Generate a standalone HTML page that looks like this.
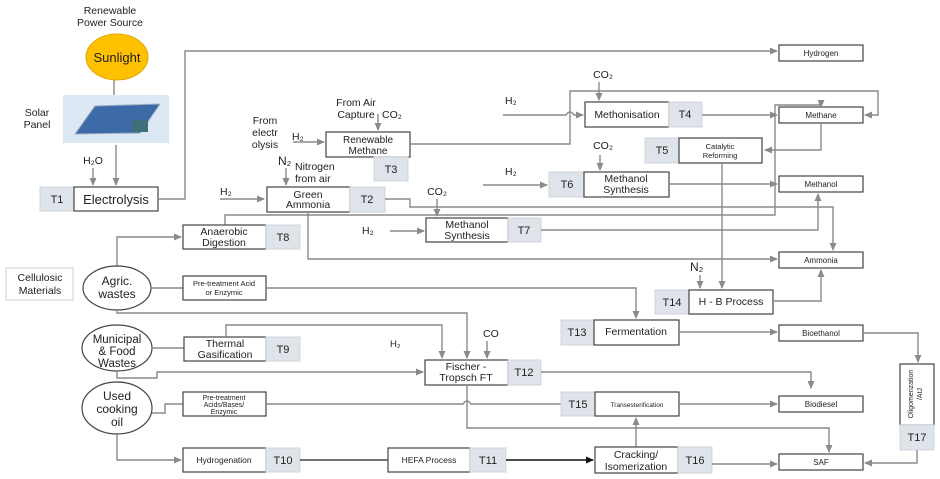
<!DOCTYPE html>
<html><head><meta charset="utf-8"><style>
html,body{margin:0;padding:0;background:#fff;}
svg{display:block;font-family:"Liberation Sans",sans-serif;}
.b{fill:#fff;stroke:#444;stroke-width:1.2}
.t{fill:#dfe4ea;stroke:#cfd5dc;stroke-width:1}
.l{fill:none;stroke:#8a8a8a;stroke-width:1.4}
text{fill:#222}
.s{font-size:8px}
.m{font-size:10.5px}
.T{font-size:11px}
</style></head><body>
<svg width="940" height="479" viewBox="0 0 940 479">
<defs><marker id="a" markerWidth="8" markerHeight="8" refX="7" refY="4" orient="auto" markerUnits="userSpaceOnUse"><path d="M0,0.5 L8,4 L0,7.5z" fill="#8a8a8a"/></marker>
<marker id="k" markerWidth="8" markerHeight="8" refX="7" refY="4" orient="auto" markerUnits="userSpaceOnUse"><path d="M0,0.5 L8,4 L0,7.5z" fill="#111"/></marker></defs>

<text x="110" y="14" text-anchor="middle" class="m" fill="#444">Renewable</text>
<text x="110" y="26" text-anchor="middle" class="m">Power Source</text>
<line x1="114" y1="80" x2="114" y2="95" class="l"/>
<ellipse cx="117" cy="57" rx="31" ry="23" fill="#FFC000" stroke="#e0a800"/>
<text x="117" y="62" text-anchor="middle" font-size="13">Sunlight</text>
<rect x="63" y="95" width="106" height="48" fill="#dce9f5"/>
<polygon points="75,134 95,106 160,104 140,133" fill="#3d6aa8" stroke="#9ab" />
<rect x="132" y="120" width="16" height="12" fill="#3f6f7a"/>
<text x="37" y="116" text-anchor="middle" class="m">Solar</text>
<text x="37" y="128" text-anchor="middle" class="m">Panel</text>
<text x="93" y="164" text-anchor="middle" class="m">H₂O</text>
<line x1="93" y1="168" x2="93" y2="185" class="l" marker-end="url(#a)"/>
<line x1="116" y1="145" x2="116" y2="185" class="l" marker-end="url(#a)"/>
<rect x="40" y="187" width="34" height="24" class="t"/><text x="57" y="203" text-anchor="middle" class="T">T1</text>
<rect x="74" y="187" width="84" height="24" class="b"/><text x="116" y="204" text-anchor="middle" font-size="13">Electrolysis</text>
<polyline points="158,199 185,199 185,51 777,51" class="l" marker-end="url(#a)"/>
<rect x="779" y="45" width="84" height="16" class="b"/><text x="821" y="56" text-anchor="middle" class="s">Hydrogen</text>

<text x="265" y="124" text-anchor="middle" class="m">From</text>
<text x="265" y="136" text-anchor="middle" class="m">electr</text>
<text x="265" y="148" text-anchor="middle" class="m">olysis</text>
<text x="292" y="140" class="m">H₂</text>
<line x1="293" y1="142" x2="324" y2="142" class="l" marker-end="url(#a)"/>
<text x="356" y="106" text-anchor="middle" class="m">From Air</text>
<text x="356" y="118" text-anchor="middle" class="m">Capture</text>
<text x="382" y="118" class="m">CO₂</text>
<line x1="378" y1="114" x2="378" y2="130" class="l" marker-end="url(#a)"/>
<rect x="326" y="132" width="84" height="25" class="b"/><text x="368" y="143" text-anchor="middle" font-size="10">Renewable</text><text x="368" y="154" text-anchor="middle" font-size="10">Methane</text>
<rect x="374" y="157" width="34" height="24" class="t"/><text x="391" y="173" text-anchor="middle" class="T">T3</text>
<polyline points="410,144 570,144 570,91 878,91 878,115 865,115" class="l" marker-end="url(#a)"/>

<text x="603" y="78" text-anchor="middle" class="m">CO₂</text>
<line x1="599" y1="82" x2="599" y2="100" class="l" marker-end="url(#a)"/>
<text x="505" y="104" class="m">H₂</text>
<path d="M503,115 L566,115 Q570,109 574,115 L583,115" class="l" marker-end="url(#a)"/>
<rect x="585" y="102" width="84" height="25" class="b"/><text x="627" y="118" text-anchor="middle" font-size="10.5">Methonisation</text>
<rect x="669" y="102" width="33" height="25" class="t"/><text x="685" y="118" text-anchor="middle" class="T">T4</text>
<line x1="702" y1="115" x2="777" y2="115" class="l" marker-end="url(#a)"/>
<rect x="779" y="107" width="84" height="16" class="b"/><text x="821" y="118" text-anchor="middle" class="s">Methane</text>

<rect x="645" y="138" width="34" height="25" class="t"/><text x="662" y="154" text-anchor="middle" class="T">T5</text>
<rect x="679" y="138" width="83" height="25" class="b"/><text x="720" y="149" text-anchor="middle" font-size="7.5">Catalytic</text><text x="720" y="158" text-anchor="middle" font-size="7.5">Reforming</text>
<polyline points="821,123 821,150 765,150" class="l" marker-end="url(#a)"/>
<polyline points="722,163 722,288" class="l" marker-end="url(#a)"/>

<text x="603" y="149" text-anchor="middle" class="m">CO₂</text>
<line x1="600" y1="155" x2="600" y2="170" class="l" marker-end="url(#a)"/>
<text x="505" y="175" class="m">H₂</text>
<line x1="483" y1="185" x2="547" y2="185" class="l" marker-end="url(#a)"/>
<rect x="549" y="172" width="35" height="25" class="t"/><text x="567" y="188" text-anchor="middle" class="T">T6</text>
<rect x="584" y="172" width="85" height="25" class="b"/><text x="626" y="182" text-anchor="middle" class="m">Methanol</text><text x="626" y="193" text-anchor="middle" class="m">Synthesis</text>
<line x1="669" y1="184" x2="777" y2="184" class="l" marker-end="url(#a)"/>
<rect x="779" y="176" width="84" height="16" class="b"/><text x="821" y="187" text-anchor="middle" class="s">Methanol</text>

<text x="278" y="165" font-size="12">N₂</text>
<line x1="286" y1="168" x2="286" y2="185" class="l" marker-end="url(#a)"/>
<text x="295" y="170" class="m">Nitrogen</text>
<text x="295" y="182" class="m">from air</text>
<text x="220" y="195" class="m">H₂</text>
<line x1="220" y1="199" x2="264" y2="199" class="l" marker-end="url(#a)"/>
<rect x="267" y="187" width="83" height="25" class="b"/><text x="308" y="198" text-anchor="middle" class="m">Green</text><text x="308" y="208" text-anchor="middle" class="m">Ammonia</text>
<rect x="350" y="187" width="35" height="25" class="t"/><text x="367" y="203" text-anchor="middle" class="T">T2</text>
<polyline points="385,199 410,199 410,207 833,207 833,250" class="l" marker-end="url(#a)"/>
<polyline points="225,225 225,215 775,215 775,105 821,105" class="l"/>
<line x1="821" y1="105" x2="821" y2="107" class="l" marker-end="url(#a)"/>
<polyline points="308,212 308,259 777,259" class="l" marker-end="url(#a)"/>

<text x="437" y="195" text-anchor="middle" class="m">CO₂</text>
<line x1="437" y1="199" x2="437" y2="216" class="l" marker-end="url(#a)"/>
<text x="362" y="234" class="m">H₂</text>
<line x1="390" y1="231" x2="424" y2="231" class="l" marker-end="url(#a)"/>
<rect x="426" y="218" width="82" height="24" class="b"/><text x="467" y="228" text-anchor="middle" class="m">Methanol</text><text x="467" y="239" text-anchor="middle" class="m">Synthesis</text>
<rect x="508" y="218" width="33" height="24" class="t"/><text x="524" y="234" text-anchor="middle" class="T">T7</text>
<polyline points="541,230 818,230 818,194" class="l" marker-end="url(#a)"/>

<rect x="779" y="252" width="84" height="16" class="b"/><text x="821" y="263" text-anchor="middle" class="s">Ammonia</text>
<text x="690" y="271" font-size="12">N₂</text>
<line x1="700" y1="275" x2="700" y2="288" class="l" marker-end="url(#a)"/>
<rect x="655" y="290" width="34" height="24" class="t"/><text x="672" y="306" text-anchor="middle" class="T">T14</text>
<rect x="689" y="290" width="84" height="24" class="b"/><text x="731" y="305" text-anchor="middle" class="m">H - B Process</text>
<polyline points="773,301 821,301 821,270" class="l" marker-end="url(#a)"/>

<rect x="183" y="225" width="83" height="24" class="b"/><text x="224" y="235" text-anchor="middle" class="m">Anaerobic</text><text x="224" y="246" text-anchor="middle" class="m">Digestion</text>
<rect x="266" y="225" width="34" height="24" class="t"/><text x="283" y="241" text-anchor="middle" class="T">T8</text>
<polyline points="117,266 117,237 181,237" class="l" marker-end="url(#a)"/>

<rect x="6" y="268" width="67" height="32" fill="#fff" stroke="#ccd"/>
<text x="40" y="281" text-anchor="middle" class="m">Cellulosic</text><text x="40" y="294" text-anchor="middle" class="m">Materials</text>
<ellipse cx="117" cy="288" rx="34" ry="22" class="b"/>
<text x="117" y="285" text-anchor="middle" font-size="12">Agric.</text><text x="117" y="298" text-anchor="middle" font-size="12">wastes</text>
<line x1="151" y1="288" x2="183" y2="288" class="l"/>
<rect x="183" y="276" width="83" height="24" class="b"/><text x="224" y="286" text-anchor="middle" font-size="7.5">Pre-treatment Acid</text><text x="224" y="295" text-anchor="middle" font-size="7.5">or Enzymic</text>
<polyline points="266,288 636,288 636,318" class="l" marker-end="url(#a)"/>
<polyline points="117,310 117,313 467,313 467,358" class="l" marker-end="url(#a)"/>

<rect x="561" y="320" width="33" height="25" class="t"/><text x="577" y="336" text-anchor="middle" class="T">T13</text>
<rect x="594" y="320" width="85" height="25" class="b"/><text x="636" y="335" text-anchor="middle" class="m">Fermentation</text>
<line x1="679" y1="332" x2="777" y2="332" class="l" marker-end="url(#a)"/>
<rect x="779" y="325" width="84" height="16" class="b"/><text x="821" y="336" text-anchor="middle" class="s">Bioethanol</text>
<polyline points="863,333 918,333 918,362" class="l" marker-end="url(#a)"/>
<rect x="900" y="364" width="34" height="61" class="b"/>
<text transform="translate(913,394) rotate(-90)" text-anchor="middle" font-size="7">Oligomerization</text>
<text transform="translate(922,394) rotate(-90)" text-anchor="middle" font-size="7">/AtJ</text>
<rect x="900" y="425" width="34" height="25" class="t"/><text x="917" y="441" text-anchor="middle" class="T">T17</text>
<polyline points="917,450 917,463 865,463" class="l" marker-end="url(#a)"/>

<ellipse cx="117" cy="348" rx="35" ry="23" class="b"/>
<text x="117" y="343" text-anchor="middle" font-size="11.5">Municipal</text><text x="117" y="355" text-anchor="middle" font-size="11.5">&amp; Food</text><text x="117" y="367" text-anchor="middle" font-size="11.5">Wastes</text>
<line x1="152" y1="348" x2="184" y2="348" class="l"/>
<rect x="184" y="337" width="82" height="24" class="b"/><text x="225" y="347" text-anchor="middle" class="m">Thermal</text><text x="225" y="358" text-anchor="middle" class="m">Gasification</text>
<rect x="266" y="337" width="34" height="24" class="t"/><text x="283" y="353" text-anchor="middle" class="T">T9</text>
<polyline points="226,337 226,325 442,325 442,358" class="l" marker-end="url(#a)"/>
<text x="390" y="347" font-size="9.5">H₂</text>
<text x="483" y="337" class="m">CO</text>
<line x1="487" y1="341" x2="487" y2="358" class="l" marker-end="url(#a)"/>
<polyline points="117,371 117,378 157,378 157,372 423,372" class="l" marker-end="url(#a)"/>
<rect x="425" y="360" width="83" height="25" class="b"/><text x="466" y="370" text-anchor="middle" class="m">Fischer -</text><text x="466" y="381" text-anchor="middle" class="m">Tropsch FT</text>
<rect x="508" y="360" width="33" height="25" class="t"/><text x="524" y="376" text-anchor="middle" class="T">T12</text>
<polyline points="541,372 811,372 811,388" class="l" marker-end="url(#a)"/>

<ellipse cx="117" cy="408" rx="35" ry="26" class="b"/>
<text x="117" y="400" text-anchor="middle" font-size="12">Used</text><text x="117" y="413" text-anchor="middle" font-size="12">cooking</text><text x="117" y="426" text-anchor="middle" font-size="12">oil</text>
<polyline points="152,413 165,413 165,404 183,404" class="l"/>
<rect x="183" y="392" width="83" height="24" class="b"/><text x="224" y="400" text-anchor="middle" font-size="7">Pre-treatment</text><text x="224" y="407" text-anchor="middle" font-size="7">Acids/Bases/</text><text x="224" y="414" text-anchor="middle" font-size="7">Enzymic</text>
<path d="M266,404 L463,404 Q467,398 471,404 L561,404" class="l"/>
<rect x="561" y="392" width="34" height="24" class="t"/><text x="578" y="408" text-anchor="middle" class="T">T15</text>
<rect x="595" y="392" width="84" height="24" class="b"/><text x="637" y="407" text-anchor="middle" font-size="6.5">Transesterification</text>
<line x1="679" y1="404" x2="777" y2="404" class="l" marker-end="url(#a)"/>
<rect x="779" y="396" width="84" height="16" class="b"/><text x="821" y="407" text-anchor="middle" class="s">Biodiesel</text>
<polyline points="467,385 467,428 829,428 829,452" class="l" marker-end="url(#a)"/>
<line x1="636" y1="447" x2="636" y2="418" class="l" marker-end="url(#a)"/>

<polyline points="117,434 117,460 181,460" class="l" marker-end="url(#a)"/>
<rect x="183" y="448" width="83" height="24" class="b"/><text x="224" y="463" text-anchor="middle" font-size="8.5">Hydrogenation</text>
<rect x="266" y="448" width="34" height="24" class="t"/><text x="283" y="464" text-anchor="middle" class="T">T10</text>
<line x1="300" y1="460" x2="388" y2="460" stroke="#222" stroke-width="1.2"/>
<rect x="388" y="448" width="82" height="24" class="b"/><text x="429" y="463" text-anchor="middle" font-size="8.5">HEFA Process</text>
<rect x="470" y="448" width="36" height="24" class="t"/><text x="488" y="464" text-anchor="middle" class="T">T11</text>
<line x1="506" y1="460" x2="593" y2="460" stroke="#111" stroke-width="1.4" marker-end="url(#k)"/>
<rect x="595" y="447" width="83" height="26" class="b"/><text x="636" y="458" text-anchor="middle" class="m">Cracking/</text><text x="636" y="470" text-anchor="middle" class="m">Isomerization</text>
<rect x="678" y="447" width="34" height="26" class="t"/><text x="695" y="464" text-anchor="middle" class="T">T16</text>
<line x1="712" y1="464" x2="777" y2="464" class="l" marker-end="url(#a)"/>
<rect x="779" y="454" width="84" height="16" class="b"/><text x="821" y="465" text-anchor="middle" class="s">SAF</text>
</svg>
</body></html>
